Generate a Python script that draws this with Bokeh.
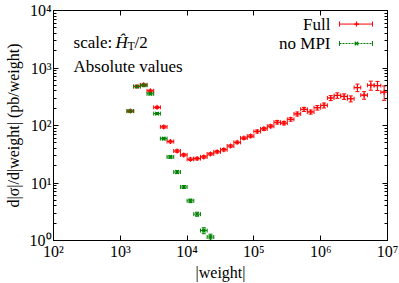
from bokeh.plotting import figure
from bokeh.models import (ColumnDataSource, Whisker, TeeHead, LogAxis, LogTicker,
                          CustomJSTickFormatter, Label, Arrow)
from bokeh.embed import file_html
from bokeh.resources import INLINE

# ---- data (log10 of bin centres, values in pb/weight) ----
full_logw = [3.15, 3.25, 3.35, 3.45, 3.55, 3.65, 3.75, 3.85, 3.95, 4.05,
             4.15, 4.25, 4.35, 4.45, 4.55, 4.65, 4.75, 4.85, 4.95, 5.05,
             5.15, 5.25, 5.35, 5.45, 5.55, 5.65, 5.75, 5.85, 5.95, 6.05,
             6.15, 6.25, 6.35, 6.45, 6.55, 6.65, 6.75, 6.85, 6.95]
full_val = [178, 478, 509, 401, 207, 94.6, 52.6, 36.0, 30.8, 25.9,
            26.6, 28.4, 32.0, 34.9, 37.9, 44.0, 50.9, 60.4, 65.4, 78.8,
            87.4, 97.3, 114, 110, 128, 159, 191, 172, 204, 224,
            301, 333, 320, 292, 457, 337, 501, 495, 380]
full_relerr = [0.04, 0.04, 0.04, 0.04, 0.04, 0.05, 0.05, 0.05, 0.05, 0.05,
               0.05, 0.05, 0.05, 0.05, 0.05, 0.05, 0.05, 0.05, 0.06, 0.06,
               0.06, 0.06, 0.07, 0.07, 0.07, 0.08, 0.08, 0.08, 0.09, 0.10,
               0.10, 0.11, 0.11, 0.12, 0.15, 0.15, 0.18, 0.18, 0.28]

nompi_logw = [3.15, 3.25, 3.35, 3.45, 3.55, 3.65, 3.75, 3.85, 3.95, 4.05,
              4.15, 4.25, 4.35]
nompi_val = [178, 476, 500, 356, 161, 59.2, 28.4, 15.5, 8.53, 4.90,
             2.87, 1.49, 1.15]
nompi_relerr = [0.04, 0.04, 0.04, 0.04, 0.04, 0.05, 0.05, 0.06, 0.06, 0.07,
                0.08, 0.12, 0.12]

x_title = "|weight|"
y_title = "d|\u03c3|/d|weight| (pb/weight)"

bin_half = 0.05
RED = "#ff0000"
GREEN = "#008000"
FONT = "Liberation Serif"


def make_source(logw, val, rel):
    return ColumnDataSource(dict(
        x=[10 ** c for c in logw],
        xlo=[10 ** (c - bin_half) for c in logw],
        xhi=[10 ** (c + bin_half) for c in logw],
        y=val,
        ylo=[v * (1 - r) for v, r in zip(val, rel)],
        yhi=[v * (1 + r) for v, r in zip(val, rel)],
    ))


src_full = make_source(full_logw, full_val, full_relerr)
src_nompi = make_source(nompi_logw, nompi_val, nompi_relerr)

p = figure(width=399, height=283, x_axis_type="log", y_axis_type="log",
           x_range=(1e2, 1e7), y_range=(1, 1e4),
           output_backend="svg", toolbar_location=None,
           min_border_left=53, min_border_right=12, min_border_top=10,
           min_border_bottom=41)
p.background_fill_color = "white"
p.border_fill_color = "white"
p.grid.visible = False
p.outline_line_color = "black"
p.outline_line_width = 1

fmt = CustomJSTickFormatter(code="""
const sup = ['\u2070','\u00b9','\u00b2','\u00b3','\u2074','\u2075','\u2076','\u2077','\u2078','\u2079'];
const e = Math.round(Math.log10(tick));
return '10' + sup[e];
""")
blank = CustomJSTickFormatter(code="return '';")

for ax in p.xaxis:
    ax.ticker = LogTicker(desired_num_ticks=6, num_minor_ticks=0)
    ax.formatter = fmt
    ax.minor_tick_line_color = None
    ax.axis_label = x_title
    ax.axis_label_standoff = 1
for ax in p.yaxis:
    ax.ticker = LogTicker(desired_num_ticks=5, num_minor_ticks=10)
    ax.formatter = fmt
    ax.axis_label = y_title
    ax.axis_label_standoff = 5

for ax in list(p.xaxis) + list(p.yaxis):
    ax.major_tick_in = 5
    ax.major_tick_out = 0
    ax.minor_tick_in = 3
    ax.minor_tick_out = 0
    ax.axis_line_color = "black"
    ax.major_label_text_font = FONT
    ax.major_label_text_font_size = "16px"
    ax.major_label_text_color = "black"
    ax.major_label_standoff = 2
    ax.axis_label_text_font = FONT
    ax.axis_label_text_font_size = "16px"
    ax.axis_label_text_font_style = "normal"
    ax.axis_label_text_color = "black"

# mirrored axes (ticks only)
top = LogAxis(ticker=LogTicker(desired_num_ticks=6, num_minor_ticks=0),
              formatter=blank, major_label_standoff=0, major_label_text_font_size="1px",
              major_tick_in=5, major_tick_out=0, minor_tick_line_color=None,
              axis_line_color="black")
right = LogAxis(ticker=LogTicker(desired_num_ticks=5, num_minor_ticks=10),
                formatter=blank, major_label_standoff=0, major_label_text_font_size="1px",
                major_tick_in=5, major_tick_out=0, minor_tick_in=3, minor_tick_out=0,
                axis_line_color="black")
p.add_layout(top, "above")
p.add_layout(right, "right")


def add_series(src, color, marker):
    p.add_layout(Whisker(source=src, base="y", lower="xlo", upper="xhi",
                         dimension="width", line_color=color, line_width=1,
                         lower_head=TeeHead(size=4, line_color=color, line_width=1),
                         upper_head=TeeHead(size=4, line_color=color, line_width=1)))
    p.add_layout(Whisker(source=src, base="x", lower="ylo", upper="yhi",
                         dimension="height", line_color=color, line_width=1,
                         lower_head=TeeHead(size=4, line_color=color, line_width=1),
                         upper_head=TeeHead(size=4, line_color=color, line_width=1)))
    p.scatter("x", "y", source=src, marker=marker, size=5, line_color=color,
              line_width=1.2, fill_color=None)


add_series(src_full, RED, "cross")
add_series(src_nompi, GREEN, "x")

# ---- text annotations ----
TS = "17px"
tx = 10 ** 2.3
ty1 = 10 ** 3.45
ty2 = 10 ** 3.02
p.add_layout(Label(x=tx, y=ty1, text="scale:", text_font=FONT, text_font_size=TS,
                   text_baseline="middle", text_color="black"))
p.add_layout(Label(x=tx, y=ty1, x_offset=42, text="\u0124", text_font=FONT,
                   text_font_size=TS, text_font_style="italic",
                   text_baseline="middle", text_color="black"))
p.add_layout(Label(x=tx, y=ty1, x_offset=54, y_offset=-4, text="T", text_font=FONT,
                   text_font_size="12px", text_baseline="middle", text_color="black"))
p.add_layout(Label(x=tx, y=ty1, x_offset=61, text="/2", text_font=FONT,
                   text_font_size=TS, text_baseline="middle", text_color="black"))
p.add_layout(Label(x=tx, y=ty2, text="Absolute values", text_font=FONT,
                   text_font_size=TS, text_baseline="middle", text_color="black"))

# ---- legend (text right, sample left of it on the right) ----
lx_text = 10 ** 6.147
ly1 = 10 ** 3.764
ly2 = 10 ** 3.426
lx0 = 10 ** 6.281
lx1 = 10 ** 6.775
lxm = 10 ** 6.536
p.add_layout(Label(x=lx_text, y=ly1, text="Full", text_font=FONT, text_font_size=TS,
                   text_align="right", text_baseline="middle", text_color="black"))
p.add_layout(Label(x=lx_text, y=ly2, text="no MPI", text_font=FONT, text_font_size=TS,
                   text_align="right", text_baseline="middle", text_color="black"))
p.add_layout(Arrow(x_start=lx0, y_start=ly1, x_end=lx1, y_end=ly1, line_color=RED,
                   line_width=1,
                   start=TeeHead(size=5, line_color=RED, line_width=1),
                   end=TeeHead(size=5, line_color=RED, line_width=1)))
p.add_layout(Arrow(x_start=lx0, y_start=ly2, x_end=lx1, y_end=ly2, line_color=GREEN,
                   line_width=1, line_dash="2 1",
                   start=TeeHead(size=5, line_color=GREEN, line_width=1),
                   end=TeeHead(size=5, line_color=GREEN, line_width=1)))
p.scatter(x=[lxm], y=[ly1], marker="cross", size=5, line_color=RED, line_width=1.2)
p.scatter(x=[lxm], y=[ly2], marker="x", size=5, line_color=GREEN, line_width=1.2)

open("out.html", "w").write(file_html(p, INLINE))
